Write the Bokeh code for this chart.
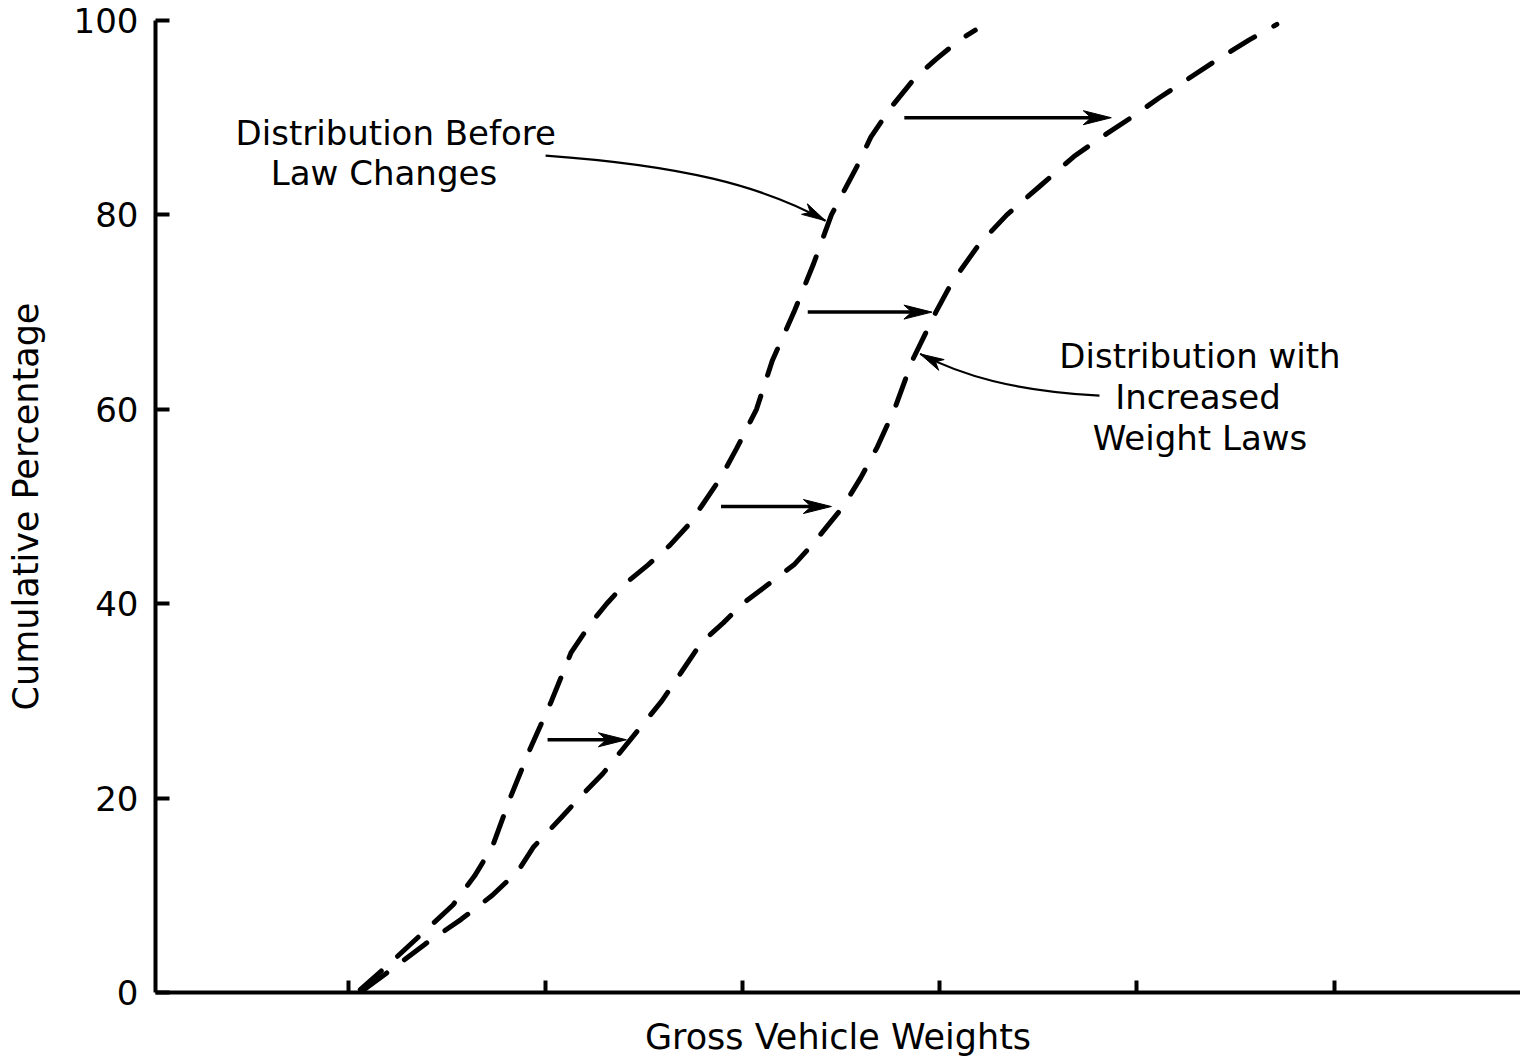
from bokeh.plotting import figure
from bokeh.models import FixedTicker, Range1d
from bokeh.core.properties import value
from bokeh.embed import file_html
from bokeh.resources import INLINE

# ---------------- data ----------------
x_ticks = [1, 2, 3, 4, 5, 6]
y_ticks = [0, 20, 40, 60, 80, 100]

before_x = [1.06, 1.21, 1.37, 1.53, 1.64, 1.73, 1.82, 1.92, 2.03, 2.13, 2.23, 2.31,
            2.40, 2.52, 2.63, 2.72, 2.79, 2.89, 2.97, 3.07, 3.15, 3.26, 3.36, 3.45,
            3.58, 3.65, 3.75, 3.87, 3.98, 4.10, 4.18]
before_y = [0.3, 3, 6, 9, 12, 15, 20, 25, 30, 35, 38, 40,
            42, 44, 46, 48, 50, 53, 56, 60, 65, 70, 75, 80,
            85, 88, 91, 94, 96, 98, 99]

after_x = [1.08, 1.26, 1.39, 1.57, 1.73, 1.86, 1.94, 2.08, 2.17, 2.29, 2.39, 2.49,
           2.59, 2.69, 2.79, 2.90, 3.00, 3.13, 3.26, 3.35, 3.43, 3.51, 3.60, 3.68,
           3.77, 3.86, 3.98, 4.06, 4.20, 4.34, 4.51, 4.68, 4.82, 4.97, 5.11, 5.26,
           5.41, 5.57, 5.71]
after_y = [0.3, 3, 5, 7.5, 10, 12.5, 15, 18, 20, 22.5, 25, 27.5,
           30, 33, 36, 38, 40, 42, 44, 46, 48, 50, 53, 56,
           60, 65, 70, 73, 77, 80, 83, 86, 88, 90, 92, 94,
           96, 98, 99.6]

# horizontal shift arrows
shift_y = [26, 50, 70, 90]
shift_x_from = [2.01, 2.89, 3.33, 3.82]
shift_x_to = [2.41, 3.45, 3.96, 4.87]

# annotation texts
before_label = ["Distribution Before", "Law Changes"]
before_label_x = [1.24, 1.18]
before_label_y = [88.4, 84.3]
after_label = ["Distribution with", "Increased", "Weight Laws"]
after_label_x = [5.32, 5.31, 5.32]
after_label_y = [65.5, 61.3, 57.0]

# leader curves (start, control 1, control 2, tip)
lead_before = [(2.00, 86.1), (2.69, 85.1), (3.10, 83.0), (3.42, 79.4)]
lead_after = [(4.81, 61.4), (4.37, 61.9), (4.11, 63.5), (3.90, 65.7)]

x_title = "Gross Vehicle Weights"
y_title = "Cumulative Percentage"

# ---------------- figure ----------------
X0, X1 = 0.021, 6.946
PX_X = 197.1   # pixels per x unit (for arrow heads)
PX_Y = 9.72    # pixels per y unit

p = figure(width=1520, height=1062, output_backend="svg", toolbar_location=None,
           x_range=Range1d(X0, X1), y_range=Range1d(0, 100),
           min_border_left=155, min_border_right=0, min_border_top=20,
           min_border_bottom=70)
p.outline_line_color = None
p.grid.visible = False
p.background_fill_color = "white"
p.border_fill_color = "white"

FONT = "DejaVu Sans"
for ax in (p.xaxis[0], p.yaxis[0]):
    ax.axis_line_width = 4
    ax.axis_line_color = "black"
    ax.major_tick_line_width = 4
    ax.major_tick_line_color = "black"
    ax.major_tick_out = 0
    ax.minor_tick_line_color = None
    ax.major_label_text_font = FONT
    ax.axis_label_text_font = FONT
    ax.axis_label_text_font_style = "normal"
    ax.axis_label_text_font_size = "35px"
    ax.axis_label_text_color = "black"
    ax.major_label_text_color = "black"

p.xaxis.ticker = FixedTicker(ticks=x_ticks)
p.xaxis.major_tick_in = 12
p.xaxis.major_label_overrides = {t: "" for t in x_ticks}
p.xaxis.major_label_text_font_size = "10px"
p.xaxis.major_label_standoff = 0
p.xaxis.axis_label = x_title
p.xaxis.axis_label_standoff = 24

p.yaxis.ticker = FixedTicker(ticks=y_ticks)
p.yaxis.major_tick_in = 14
p.yaxis.major_label_text_font_size = "34px"
p.yaxis.major_label_standoff = 17
p.yaxis.axis_label = y_title
p.yaxis.axis_label_standoff = 25

dash = dict(line_color="black", line_width=5, line_dash="28 22", line_cap="round")
p.line(before_x, before_y, **dash)
p.line(after_x, after_y, **dash)


def head(xt, yt, xf, yf, L=28, W=7):
    dx = (xt - xf) * PX_X
    dy = (yt - yf) * PX_Y
    n = (dx * dx + dy * dy) ** 0.5
    ux, uy = dx / n, dy / n
    nx, ny = -uy, ux
    pts = [(0, 0), (-L * ux + W * nx, -L * uy + W * ny),
           (-0.72 * L * ux, -0.72 * L * uy), (-L * ux - W * nx, -L * uy - W * ny)]
    return [xt + a / PX_X for a, b in pts], [yt + b / PX_Y for a, b in pts]


hx, hy = [], []
for y, xa, xb in zip(shift_y, shift_x_from, shift_x_to):
    p.line([xa, xb - 15 / PX_X], [y, y], line_color="black", line_width=3.5)
    a, b = head(xb, y, xa, y)
    hx.append(a)
    hy.append(b)

for lead in (lead_before, lead_after):
    (sx, sy), (c1x, c1y), (c2x, c2y), (ex, ey) = lead
    p.bezier(x0=[sx], y0=[sy], x1=[ex], y1=[ey], cx0=[c1x], cy0=[c1y],
             cx1=[c2x], cy1=[c2y], line_color="black", line_width=2.2)
    a, b = head(ex, ey, c2x, c2y, L=24, W=6)
    hx.append(a)
    hy.append(b)

p.patches(hx, hy, fill_color="black", line_color="black", line_width=1)

txt = dict(text_font=value(FONT), text_font_size="34px", text_color="black",
           text_align="center", text_baseline="alphabetic")
p.text(before_label_x, before_label_y, text=before_label, **txt)
p.text(after_label_x, after_label_y, text=after_label, **txt)

open("out.html", "w").write(file_html(p, INLINE))
